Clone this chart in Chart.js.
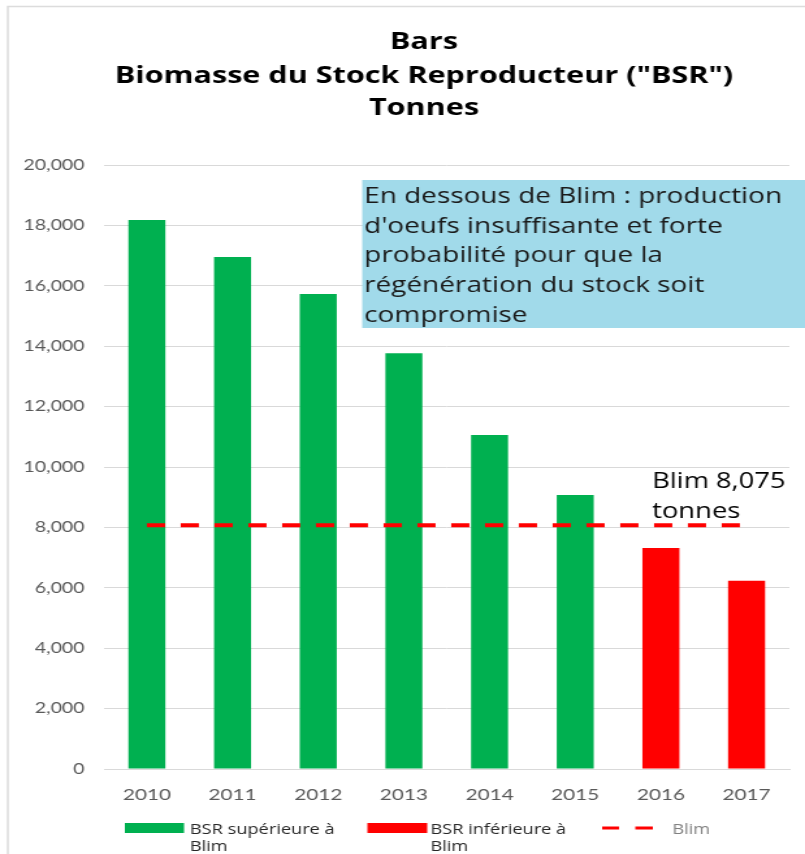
<!DOCTYPE html>
<html>
<head>
<meta charset="utf-8">
<script src="https://cdn.jsdelivr.net/npm/chart.js@4.4.1/dist/chart.umd.min.js"></script>
<style>
  html, body { margin: 0; padding: 0; background: #fff; }
  canvas { display: block; }
</style>
</head>
<body>
<!-- drawn narrow and stretched by css, like the original picture -->
<canvas id="bsrChart" width="619" height="854" style="width:805px;height:854px"></canvas>
<script>
const years = ['2010', '2011', '2012', '2013', '2014', '2015', '2016', '2017'];
const aboveBlim = [18180, 16950, 15730, 13770, 11060, 9070, null, null];
const belowBlim = [null, null, null, null, null, null, 7320, 6230];
const blimLevel = [8075, 8075, 8075, 8075, 8075, 8075, 8075, 8075];
const yMax = 20000;
const yStep = 2000;

const titleLines = ['Bars', 'Biomasse du Stock Reproducteur ("BSR")', 'Tonnes'];
const noteLines = [
    'En dessous de Blim : production',
    "d'oeufs insuffisante et forte",
    'probabilité pour que la',
    'régénération du stock soit',
    'compromise'
];
const blimNote = ['Blim 8,075', 'tonnes'];
const legendAbove = ['BSR supérieure à', 'Blim'];
const legendBelow = ['BSR inférieure à', 'Blim'];
const legendLine = 'Blim';

const FONT = 'Lato, "Open Sans", sans-serif';
const TEXT_FONT = '"Open Sans", Lato, sans-serif';

const decor = {
    id: 'decor',
    afterDraw(chart) {
        const ctx = chart.ctx;
        const y = chart.scales.y;
        const W = chart.width;
        ctx.save();

        // frame
        ctx.strokeStyle = '#dcdcdc';
        ctx.lineWidth = 1.5;
        ctx.beginPath();
        ctx.moveTo(6, chart.height);
        ctx.lineTo(6, 6.5);
        ctx.lineTo(W, 6.5);
        ctx.stroke();

        // title
        ctx.fillStyle = '#000';
        ctx.font = 'bold 23.5px ' + TEXT_FONT;
        ctx.textAlign = 'center';
        ctx.textBaseline = 'alphabetic';
        [49, 83, 115].forEach((by, i) => ctx.fillText(titleLines[i], 326, by));

        // note box
        ctx.fillStyle = '#a1daea';
        ctx.fillRect(278.5, 180, W - 278.5, 148);
        ctx.fillStyle = '#1a1a1a';
        ctx.font = '21.5px ' + TEXT_FONT;
        ctx.textAlign = 'left';
        noteLines.forEach((t, i) => ctx.fillText(t, 280, 203 + i * 29.7));

        // blim label
        const blimY = y.getPixelForValue(blimLevel[0]);
        ctx.fillStyle = '#000';
        ctx.font = '21px ' + TEXT_FONT;
        ctx.fillText(blimNote[0], 501.5, blimY - 37);
        ctx.fillText(blimNote[1], 501.5, blimY - 7);

        // legend
        ctx.font = '14px ' + TEXT_FONT;
        ctx.fillStyle = '#00b050';
        ctx.fillRect(96, 823, 45.5, 10);
        ctx.fillStyle = '#ff0000';
        ctx.fillRect(282.5, 823, 46, 10);
        ctx.fillStyle = '#262626';
        ctx.fillText(legendAbove[0], 146, 834);
        ctx.fillText(legendAbove[1], 146, 851);
        ctx.fillText(legendBelow[0], 331, 834);
        ctx.fillText(legendBelow[1], 331, 851);
        ctx.strokeStyle = '#ff0000';
        ctx.lineWidth = 3;
        ctx.beginPath();
        ctx.moveTo(463, 828);
        ctx.lineTo(476, 828);
        ctx.moveTo(488.5, 828);
        ctx.lineTo(502, 828);
        ctx.stroke();
        ctx.fillStyle = '#808080';
        ctx.fillText(legendLine, 517, 834);

        ctx.restore();
    }
};

const ctx = document.getElementById('bsrChart').getContext('2d');
new Chart(ctx, {
    data: {
        labels: years,
        datasets: [
            {
                type: 'line',
                label: 'Blim',
                data: blimLevel,
                borderColor: '#ff0000',
                borderWidth: 4,
                borderDash: [14, 12],
                pointRadius: 0,
                fill: false,
                order: 0
            },
            {
                type: 'bar',
                label: 'BSR supérieure à Blim',
                data: aboveBlim,
                backgroundColor: '#00b050',
                skipNull: true,
                categoryPercentage: 0.54,
                barPercentage: 0.8,
                order: 1
            },
            {
                type: 'bar',
                label: 'BSR inférieure à Blim',
                data: belowBlim,
                backgroundColor: '#ff0000',
                skipNull: true,
                categoryPercentage: 0.54,
                barPercentage: 0.8,
                order: 1
            }
        ]
    },
    options: {
        responsive: false,
        devicePixelRatio: 1,
        animation: false,
        layout: { padding: { left: 0, right: 12, top: 165, bottom: 45 } },
        plugins: {
            legend: { display: false },
            title: { display: false },
            tooltip: { enabled: false }
        },
        scales: {
            x: {
                afterFit: scale => { scale.height = 40; },
                grid: { display: false },
                border: { color: '#d9d9d9', width: 1 },
                ticks: { color: '#595959', font: { family: FONT, size: 16 }, padding: 8 }
            },
            y: {
                min: 0,
                max: yMax,
                afterFit: scale => { scale.width = 80; },
                grid: { color: '#d9d9d9', drawTicks: false },
                border: { display: false },
                ticks: {
                    stepSize: yStep,
                    color: '#595959',
                    font: { family: FONT, size: 15 },
                    padding: 15,
                    callback: v => v.toLocaleString('en-US')
                }
            }
        }
    },
    plugins: [decor]
});
</script>
</body>
</html>
